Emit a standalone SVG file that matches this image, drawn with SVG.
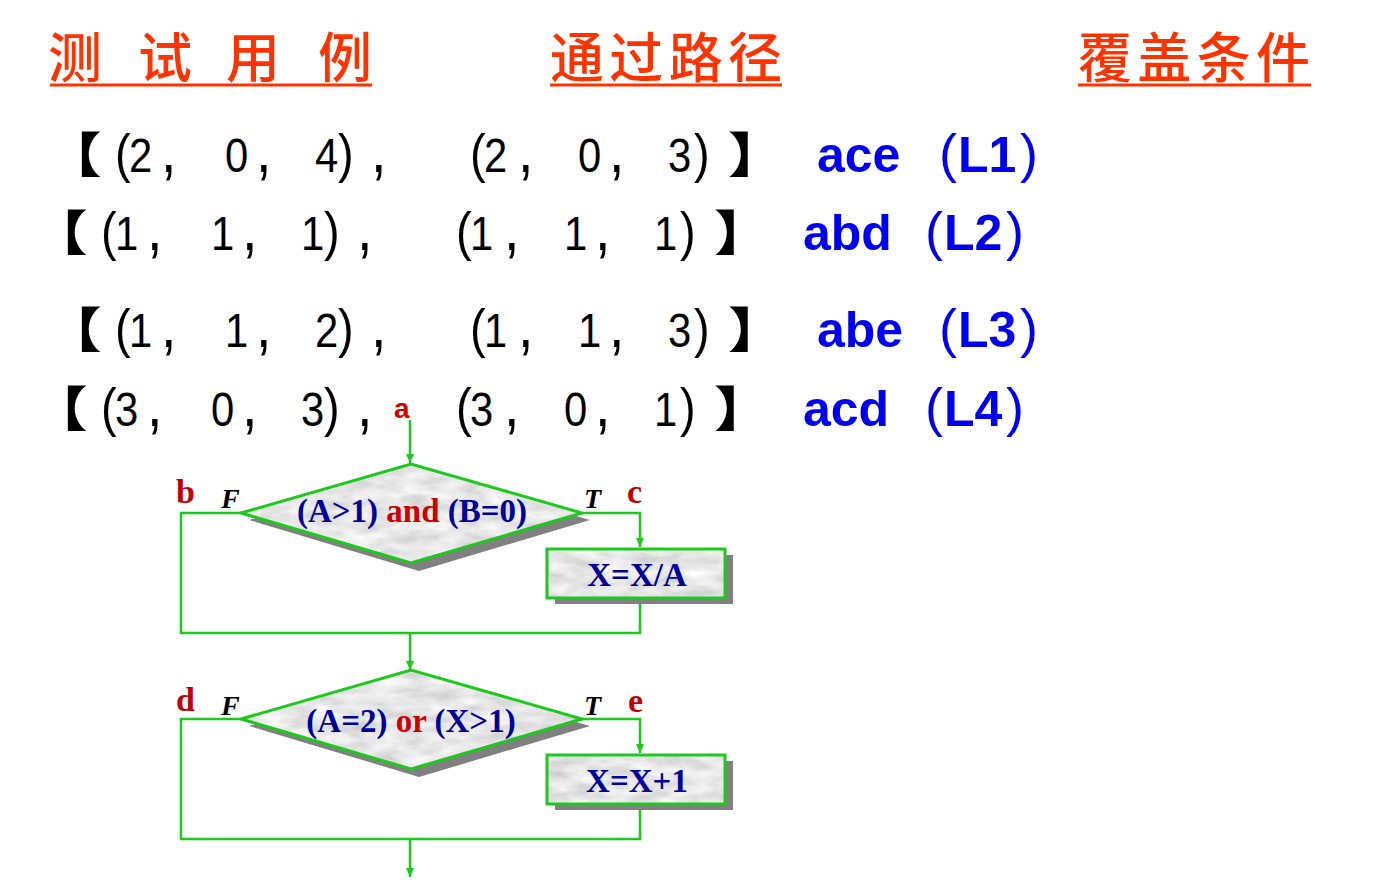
<svg xmlns="http://www.w3.org/2000/svg" width="1379" height="887" viewBox="0 0 1379 887">
<style>
.hd{font-family:"Noto Sans CJK SC","Noto Sans",sans-serif;font-size:54px;font-weight:500;fill:#ff3300}
.ul{stroke:#ff3300;stroke-width:3}
.tk{font-family:"Liberation Sans",Arial,sans-serif;font-size:48px;fill:#000}
.pr{font-size:54px}
.cm{font-size:64px}
.br{font-family:"Noto Sans CJK SC",sans-serif;font-size:48px;fill:#000;font-weight:900}
.bl{font-family:"Liberation Sans",Arial,sans-serif;font-size:50px;fill:#0000ee;font-weight:bold}
.blp{font-family:"Liberation Sans",Arial,sans-serif;font-size:54px;fill:#0000ee}
.lbl{font-family:"Liberation Serif","Times New Roman",serif;font-size:34px;font-weight:bold;fill:#c00000}
.ft{font-family:"Liberation Serif","Times New Roman",serif;font-size:28px;font-style:italic;font-weight:bold;fill:#000}
.nt{font-family:"Liberation Serif","Times New Roman",serif;font-size:33px;font-weight:bold;fill:#000099}
.red{fill:#cc0000}
.ln{fill:none;stroke:#1ec81e;stroke-width:2.5}
.sh{fill:#808080}
.edge{fill:none;stroke:#1ec81e;stroke-width:3}
</style>
<defs>
<marker id="ah" markerWidth="10" markerHeight="10" refX="9" refY="5" orient="auto" markerUnits="userSpaceOnUse">
<path d="M0,1 L9,5 L0,9 Z" fill="#1ec81e"/>
</marker>
<filter id="marble" x="0" y="0" width="1" height="1" filterUnits="objectBoundingBox">
<feTurbulence type="fractalNoise" baseFrequency="0.035 0.09" numOctaves="4" seed="7" result="n"/>
<feColorMatrix in="n" type="matrix" values="0.5 0 0 0 0.55  0.5 0 0 0 0.55  0.5 0 0 0 0.55  0 0 0 0 1" result="g"/>
<feComposite in="g" in2="SourceGraphic" operator="in"/>
</filter>
</defs>

<g id="headers">
<text class="hd" x="48" y="78">测</text>
<text class="hd" x="138" y="78">试</text>
<text class="hd" x="226" y="78">用</text>
<text class="hd" x="318" y="78">例</text>
<line class="ul" x1="50" y1="85" x2="372" y2="85"/>
<text class="hd" x="550" y="78" textLength="232">通过路径</text>
<line class="ul" x1="550" y1="85" x2="782" y2="85"/>
<text class="hd" x="1078" y="78" textLength="232">覆盖条件</text>
<line class="ul" x1="1078" y1="85" x2="1311" y2="85"/>
</g>

<g id="row1">
<text class="br" transform="translate(44,172) scale(1.2,1)">【</text>
<text class="tk" transform="scale(0.87,1)" y="172"><tspan class="pr" x="132.2">(</tspan><tspan x="148.3">2</tspan><tspan class="cm" x="185.1">,</tspan><tspan x="258.6">0</tspan><tspan class="cm" x="294.3">,</tspan><tspan x="362.1">4</tspan><tspan class="pr" x="388.5">)</tspan><tspan class="cm" x="426.4">,</tspan><tspan class="pr" x="540.2">(</tspan><tspan x="556.3">2</tspan><tspan class="cm" x="595.4">,</tspan><tspan x="664.4">0</tspan><tspan class="cm" x="700">,</tspan><tspan x="767.8">3</tspan><tspan class="pr" x="797.7">)</tspan></text>
<text class="br" transform="translate(728,172) scale(1.2,1)">】</text>
<text class="bl" x="817" y="172">ace</text>
<text class="blp" x="939" y="172">(</text><text class="bl" x="958" y="172">L1</text><text class="blp" x="1020" y="172">)</text>
</g>

<g id="row2" transform="translate(-14,78)">
<text class="br" transform="translate(44,172) scale(1.2,1)">【</text>
<text class="tk" transform="scale(0.87,1)" y="172"><tspan class="pr" x="132.2">(</tspan><tspan x="148.3">1</tspan><tspan class="cm" x="185.1">,</tspan><tspan x="258.6">1</tspan><tspan class="cm" x="294.3">,</tspan><tspan x="362.1">1</tspan><tspan class="pr" x="388.5">)</tspan><tspan class="cm" x="426.4">,</tspan><tspan class="pr" x="540.2">(</tspan><tspan x="556.3">1</tspan><tspan class="cm" x="595.4">,</tspan><tspan x="664.4">1</tspan><tspan class="cm" x="700">,</tspan><tspan x="767.8">1</tspan><tspan class="pr" x="797.7">)</tspan></text>
<text class="br" transform="translate(728,172) scale(1.2,1)">】</text>
<text class="bl" x="817" y="172">abd</text>
<text class="blp" x="939" y="172">(</text><text class="bl" x="958" y="172">L2</text><text class="blp" x="1020" y="172">)</text>
</g>

<g id="row3" transform="translate(0,175)">
<text class="br" transform="translate(44,172) scale(1.2,1)">【</text>
<text class="tk" transform="scale(0.87,1)" y="172"><tspan class="pr" x="132.2">(</tspan><tspan x="148.3">1</tspan><tspan class="cm" x="185.1">,</tspan><tspan x="258.6">1</tspan><tspan class="cm" x="294.3">,</tspan><tspan x="362.1">2</tspan><tspan class="pr" x="388.5">)</tspan><tspan class="cm" x="426.4">,</tspan><tspan class="pr" x="540.2">(</tspan><tspan x="556.3">1</tspan><tspan class="cm" x="595.4">,</tspan><tspan x="664.4">1</tspan><tspan class="cm" x="700">,</tspan><tspan x="767.8">3</tspan><tspan class="pr" x="797.7">)</tspan></text>
<text class="br" transform="translate(728,172) scale(1.2,1)">】</text>
<text class="bl" x="817" y="172">abe</text>
<text class="blp" x="939" y="172">(</text><text class="bl" x="958" y="172">L3</text><text class="blp" x="1020" y="172">)</text>
</g>

<g id="row4" transform="translate(-14,254)">
<text class="br" transform="translate(44,172) scale(1.2,1)">【</text>
<text class="tk" transform="scale(0.87,1)" y="172"><tspan class="pr" x="132.2">(</tspan><tspan x="148.3">3</tspan><tspan class="cm" x="185.1">,</tspan><tspan x="258.6">0</tspan><tspan class="cm" x="294.3">,</tspan><tspan x="362.1">3</tspan><tspan class="pr" x="388.5">)</tspan><tspan class="cm" x="426.4">,</tspan><tspan class="pr" x="540.2">(</tspan><tspan x="556.3">3</tspan><tspan class="cm" x="595.4">,</tspan><tspan x="664.4">0</tspan><tspan class="cm" x="700">,</tspan><tspan x="767.8">1</tspan><tspan class="pr" x="797.7">)</tspan></text>
<text class="br" transform="translate(728,172) scale(1.2,1)">】</text>
<text class="bl" x="817" y="172">acd</text>
<text class="blp" x="939" y="172">(</text><text class="bl" x="958" y="172">L4</text><text class="blp" x="1020" y="172">)</text>
</g>

<g id="connectors">
<line class="ln" x1="410" y1="420" x2="410" y2="463" marker-end="url(#ah)"/>
<polyline class="ln" points="582,513 640,513 640,547" marker-end="url(#ah)"/>
<polyline class="ln" points="241,513 181,513 181,633 640,633 640,598"/>
<line class="ln" x1="410" y1="633" x2="410" y2="670" marker-end="url(#ah)"/>
<polyline class="ln" points="582,719 640,719 640,753" marker-end="url(#ah)"/>
<polyline class="ln" points="241,719 181,719 181,839 640,839 640,804"/>
<line class="ln" x1="410" y1="839" x2="410" y2="877" marker-end="url(#ah)"/>
</g>

<g id="labels">
<text x="394" y="418" style="font-family:'Liberation Sans',Arial,sans-serif;font-size:28px;font-weight:bold;fill:#cc0000">a</text>
<text class="lbl" x="176" y="503">b</text>
<text class="lbl" x="627" y="503">c</text>
<text class="lbl" x="176" y="711">d</text>
<text class="lbl" x="628" y="712">e</text>
<text class="ft" x="221" y="508">F</text>
<text class="ft" x="584" y="508">T</text>
<text class="ft" x="221" y="715">F</text>
<text class="ft" x="584" y="715">T</text>
</g>

<g id="decision1">
<polygon class="sh" points="249,520 419,471 590,520 419,571"/>
<polygon points="241,513 411,464 582,513 411,563" fill="#eee" filter="url(#marble)"/>
<polygon class="edge" points="241,513 411,464 582,513 411,563"/>
<text class="nt" x="412" y="522" text-anchor="middle">(A&gt;1) <tspan class="red">and</tspan> (B=0)</text>
</g>

<g id="process1">
<rect class="sh" x="555" y="555" width="178" height="49"/>
<rect x="547" y="549" width="178" height="49" fill="#eee" filter="url(#marble)"/>
<rect class="edge" x="547" y="549" width="178" height="49"/>
<text class="nt" x="637" y="586" text-anchor="middle">X=X/A</text>
</g>

<g id="decision2">
<polygon class="sh" points="249,726 419,677 590,726 419,777"/>
<polygon points="241,719 411,670 582,719 411,769" fill="#eee" filter="url(#marble)"/>
<polygon class="edge" points="241,719 411,670 582,719 411,769"/>
<text class="nt" x="411" y="732" text-anchor="middle">(A=2) <tspan class="red">or</tspan> (X&gt;1)</text>
</g>

<g id="process2">
<rect class="sh" x="555" y="761" width="178" height="49"/>
<rect x="547" y="755" width="178" height="49" fill="#eee" filter="url(#marble)"/>
<rect class="edge" x="547" y="755" width="178" height="49"/>
<text class="nt" x="637" y="792" text-anchor="middle">X=X+1</text>
</g>
</svg>
